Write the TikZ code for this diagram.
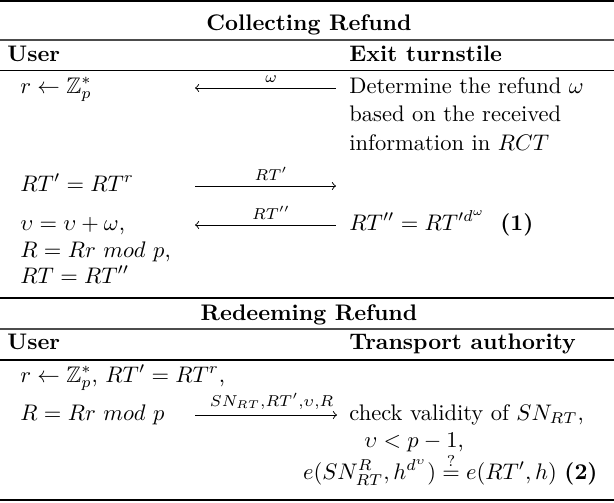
\documentclass[tikz,border=0pt]{standalone}
\usepackage{amssymb}
\begin{document}
\begin{tikzpicture}[x=0.444pt,y=-0.444pt,
  txt/.style={anchor=base west,inner sep=0pt},
  txtr/.style={anchor=base east,inner sep=0pt},
  hdr/.style={anchor=base,inner sep=0pt,font=\bfseries},
  colhdr/.style={anchor=base west,inner sep=0pt,font=\bfseries},
  msg/.style={line width=0.4pt},
  lbl/.style={midway,above,inner sep=2.4pt,xshift=2.5pt},
  outerrule/.style={line width=0.8pt},
  midrule/.style={line width=0.5pt},
  thinrule/.style={line width=0.5pt,draw=black!70}]
\useasboundingbox (0,0) rectangle (614,502);
% rules
\draw[outerrule] (0,1) -- (614,1);
\draw[thinrule] (0,40) -- (614,40);
\draw[midrule] (0,70.5) -- (614,70.5);
\draw[midrule] (0,298) -- (614,298);
\draw[thinrule] (0,329) -- (614,329);
\draw[midrule] (0,360) -- (614,360);
\draw[outerrule] (0,500) -- (614,500);
% collecting refund
\node[hdr] (t1) at (309,30) {Collecting Refund};
\node[colhdr] (u1) at (7,61) {User};
\node[colhdr] (x1) at (349,61) {Exit turnstile};
\node[txt] (c1) at (20,93) {$r\leftarrow\mathbb{Z}_p^*$};
\node[txt] (d1) at (349,93) {Determine the refund $\omega$};
\node[txt] (d2) at (349,121.5) {based on the received};
\node[txt] (d3) at (349,150) {information in $RCT$};
\node[txt] (c2) at (20,191) {$RT'=RT^r$};
\node[txt] (c3) at (20,230) {$\upsilon=\upsilon+\omega$,};
\node[txt] (c4) at (20,257) {$R=Rr\ mod\ p$,};
\node[txt] (c5) at (20,283) {$RT=RT''$};
\node[txt] (d4) at (349,230) {$RT''=RT'^{d^\omega}$\ \ \textbf{(1)}};
\coordinate (a1l) at (195,88); \coordinate (a1r) at (336,88);
\coordinate (a2l) at (195,186); \coordinate (a2r) at (336,186);
\coordinate (a3l) at (195,225); \coordinate (a3r) at (336,225);
\draw[msg,<-] (a1l) -- node[lbl] (l1) {$\scriptstyle\omega$} (a1r);
\draw[msg,->] (a2l) -- node[lbl] (l2) {$\scriptstyle RT'$} (a2r);
\draw[msg,<-] (a3l) -- node[lbl] (l3) {$\scriptstyle RT''$} (a3r);
% redeeming refund
\node[hdr] (t2) at (309,320) {Redeeming Refund};
\node[colhdr] (u2) at (7,349) {User};
\node[colhdr] (x2) at (349,349) {Transport authority};
\node[txt] (c6) at (20,382) {$r\leftarrow\mathbb{Z}_p^*$, $RT'=RT^r$,};
\node[txt] (c7) at (20,420) {$R=Rr\ mod\ p$};
\node[txt] (d5) at (349,420) {check validity of $SN_{RT}$,};
\node[txt] (d6) at (364,447) {$\upsilon<p-1$,};
\node[txtr] (d7) at (598,479) {$e(SN_{RT}^R,h^{d^\upsilon})\stackrel{?}{=}e(RT',h)$ \textbf{(2)}};
\coordinate (a4l) at (195,415); \coordinate (a4r) at (337,415);
\draw[msg,->] (a4l) -- node[lbl] (l4) {$\scriptstyle SN_{RT},RT',\upsilon,R$} (a4r);
\end{tikzpicture}
\end{document}
